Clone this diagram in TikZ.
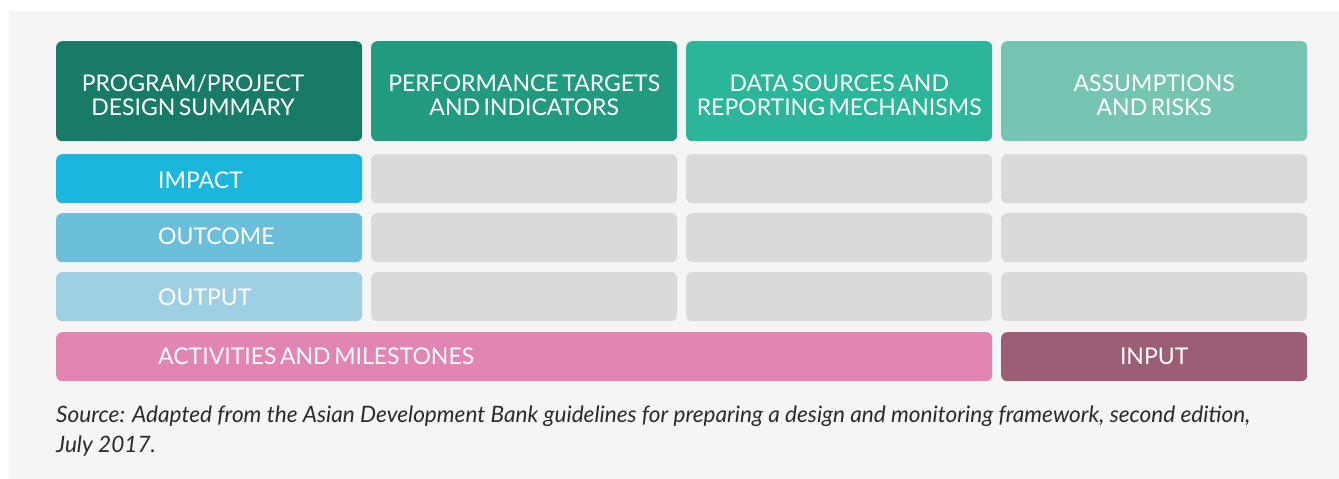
\documentclass[tikz,border=0pt]{standalone}
\usepackage{fontspec}
\setmainfont{Lato}
\newfontfamily\boxfont{Lato}[WordSpace=0.6]
\definecolor{bgc}{HTML}{F5F5F5}
\definecolor{hA}{HTML}{177B66}
\definecolor{hB}{HTML}{229A7F}
\definecolor{hC}{HTML}{2BB59A}
\definecolor{hD}{HTML}{76C4B2}
\definecolor{cImp}{HTML}{1BB6DE}
\definecolor{cOutc}{HTML}{6BBFDB}
\definecolor{cOutp}{HTML}{9FCFE3}
\definecolor{cAct}{HTML}{E285B3}
\definecolor{cInp}{HTML}{9C5E77}
\definecolor{cell}{HTML}{DADADA}
\definecolor{captc}{HTML}{2A2A2A}
\tikzset{
  cellbox/.style={draw=none, rounded corners=6pt, inner sep=0pt, minimum width=306pt, minimum height=49pt, anchor=north west},
  headbox/.style={cellbox, minimum height=100pt},
  headtext/.style={text=white, font=\boxfont\fontsize{23}{24}\selectfont, align=center, inner sep=0pt},
  rowtext/.style={text=white, font=\boxfont\fontsize{23}{24}\selectfont, anchor=west, inner sep=0pt},
}
\begin{document}
\begin{tikzpicture}[x=1pt,y=-1pt]
\useasboundingbox (0,0) rectangle (1339,479);
\fill[white] (0,0) rectangle (1339,479);
\fill[bgc] (9,11) rectangle (1339,479);
% headers
\node[headbox, fill=hA] (h1) at (56,41) {};
\node[headbox, fill=hB] (h2) at (371,41) {};
\node[headbox, fill=hC] (h3) at (686,41) {};
\node[headbox, fill=hD] (h4) at (1001,41) {};
\node[headtext] (t1) at (193,95) {PROGRAM/PROJECT\\DESIGN SUMMARY};
\node[headtext] (t2) at (h2.center |- 0,95) {PERFORMANCE TARGETS\\AND INDICATORS};
\node[headtext] (t3) at (h3.center |- 0,95) {DATA SOURCES AND\\REPORTING MECHANISMS};
\node[headtext] (t4) at (h4.center |- 0,95) {ASSUMPTIONS\\AND RISKS};
% rows
\node[cellbox, fill=cImp] (r1) at (56,154) {};
\node[cellbox, fill=cOutc] (r2) at (56,213) {};
\node[cellbox, fill=cOutp] (r3) at (56,272) {};
\foreach \y/\n in {154/1,213/2,272/3}{
  \node[cellbox, fill=cell] (c\n a) at (371,\y) {};
  \node[cellbox, fill=cell] (c\n b) at (686,\y) {};
  \node[cellbox, fill=cell] (c\n c) at (1001,\y) {};
}
\node[cellbox, fill=cAct, minimum width=936pt] (r4) at (56,332) {};
\node[cellbox, fill=cInp] (r5) at (1001,332) {};
\node[rowtext] (l1) at (158,180) {IMPACT};
\node[rowtext] (l2) at (158,236) {OUTCOME};
\node[rowtext] (l3) at (158,297) {OUTPUT};
\node[rowtext] (l4) at (158,356) {ACTIVITIES AND MILESTONES};
\node[text=white, font=\boxfont\fontsize{23}{24}\selectfont, inner sep=0pt] (l5) at (r5.center) {INPUT};
% caption
\node[anchor=north west, inner sep=0pt, text=captc, align=left, font=\fontsize{22.6}{30}\selectfont\itshape] (cap) at (56,406)
 {Source: Adapted from the Asian Development Bank guidelines for preparing a design and monitoring framework, second edition,\\July 2017.};
\end{tikzpicture}
\end{document}
